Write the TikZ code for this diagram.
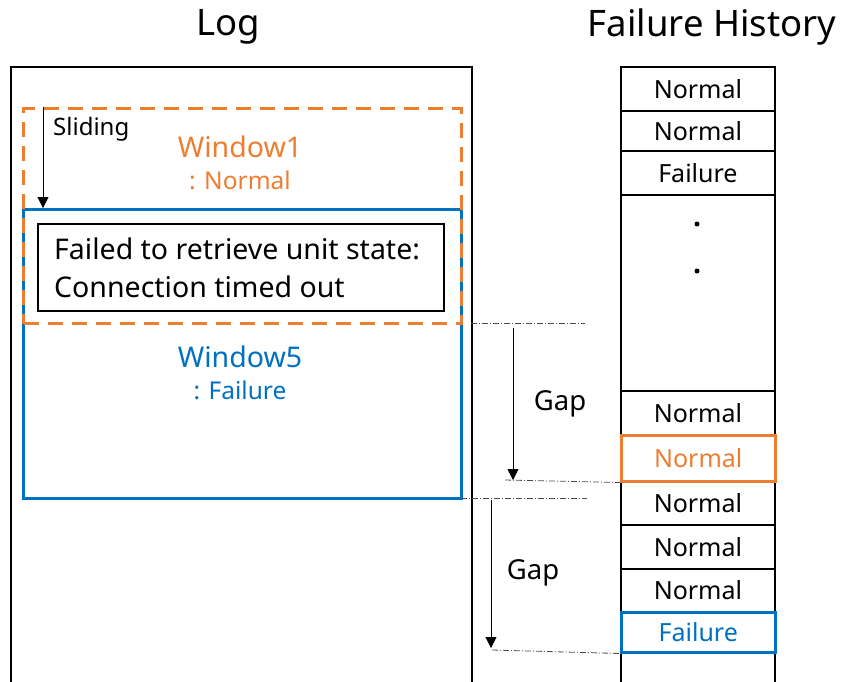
\documentclass[tikz,border=0pt]{standalone}
\usepackage{fontspec}
\setmainfont{Noto Sans}
\usetikzlibrary{arrows.meta}
\definecolor{org}{HTML}{ED7D31}
\definecolor{blu}{HTML}{0070C0}
\begin{document}
\begin{tikzpicture}[x=1pt,y=-1pt,
  box/.style={draw, line width=1.8pt, inner sep=0pt, anchor=north west},
  cell/.style={box, minimum width=154pt, font=\fontsize{25}{29}\selectfont},
  title/.style={font=\fontsize{36.5}{42}\selectfont},
  gaplbl/.style={font=\fontsize{27.5}{32}\selectfont},
  arr/.style={line width=0.8pt, -{Triangle[width=11pt,length=11pt]}},
  dd/.style={line width=0.8pt, black!70, dash pattern=on 6pt off 2pt on 1pt off 2pt}]
\clip (0,0) rectangle (841,681);
\useasboundingbox (0,0) rectangle (841,681);
% titles
\node[title] (tlog) at (228,27) {Log};
\node[title] (thist) at (712,27) {Failure History};
% log box
\node[box, minimum width=461pt, minimum height=640pt] (log) at (10,66) {};
% windows
\node[draw=blu, line width=3pt, inner sep=0pt, anchor=north west, minimum width=438pt, minimum height=289pt] (w5) at (22,208) {};
\node[draw=org, line width=3pt, inner sep=0pt, anchor=north west, minimum width=438pt, minimum height=215pt, dash pattern=on 15pt off 9pt] (w1) at (22,107) {};
\node[box, minimum width=406pt, minimum height=87pt] (msg) at (37,223) {};
\node[anchor=west, inner sep=0pt, align=left, font=\fontsize{28.5}{38}\selectfont] (msgtxt) at ([xshift=17pt]msg.west) {Failed to retrieve unit state:\\Connection timed out};
\node[org, font=\fontsize{28.5}{33}\selectfont] (w1a) at (240,147) {Window1};
\node[org, font=\fontsize{24.5}{29}\selectfont] (w1b) at (240,180) {: Normal};
\node[blu, font=\fontsize{28.5}{33}\selectfont] (w5a) at (240,357) {Window5};
\node[blu, font=\fontsize{24.5}{29}\selectfont] (w5b) at (240,390) {: Failure};
\node[anchor=west, font=\fontsize{24}{28}\selectfont, inner sep=0pt] (sl) at (53,129) {Sliding};
\coordinate (s1) at (43,107);
\coordinate (s2) at (43,208);
\draw[arr] (s1) -- (s2);
% history
\node[cell, minimum height=44pt] (h1) at (620,66) {Normal};
\node[cell, minimum height=40pt] (h2) at (620,110) {Normal};
\node[cell, minimum height=44pt] (h3) at (620,150) {Failure};
\node[cell, minimum height=196pt] (h4) at (620,194) {};
\node[cell, minimum height=44pt] (h5) at (620,390) {Normal};
\node[cell, minimum height=46pt] (h6) at (620,434) {};
\node[cell, minimum height=44pt] (h7) at (620,480) {Normal};
\node[cell, minimum height=44pt] (h8) at (620,524) {Normal};
\node[cell, minimum height=43pt] (h9) at (620,568) {Normal};
\node[cell, minimum height=40pt] (h10) at (620,611) {};
\node[cell, minimum height=60pt] (h11) at (620,651) {};
\node[cell, draw=org, line width=2.5pt, text=org, minimum height=46pt] (ho) at (620,434) {Normal};
\node[cell, draw=blu, line width=2.5pt, text=blu, minimum height=40pt] (hb) at (620,611) {Failure};
\fill (697,224) circle (2.5pt);
\fill (697,271) circle (2.5pt);
% gaps
\coordinate (g1a) at (471,323); \coordinate (g1b) at (585,323);
\coordinate (g1c) at (505,480);
\coordinate (a1s) at (513,328); \coordinate (a1e) at (513,480);
\draw[dd] (g1a) -- (g1b);
\draw[dd] (g1c) -- (ho.south west);
\draw[arr] (a1s) -- (a1e);
\node[gaplbl] (gap1) at (560,404) {Gap};
\coordinate (g2a) at (461,498); \coordinate (g2b) at (587,498);
\coordinate (g2c) at (492,650);
\coordinate (a2s) at (491,500); \coordinate (a2e) at (491,648);
\draw[dd] (g2a) -- (g2b);
\draw[dd] (g2c) -- (hb.south west);
\draw[arr] (a2s) -- (a2e);
\node[gaplbl] (gap2) at (533,573) {Gap};
\end{tikzpicture}
\end{document}
